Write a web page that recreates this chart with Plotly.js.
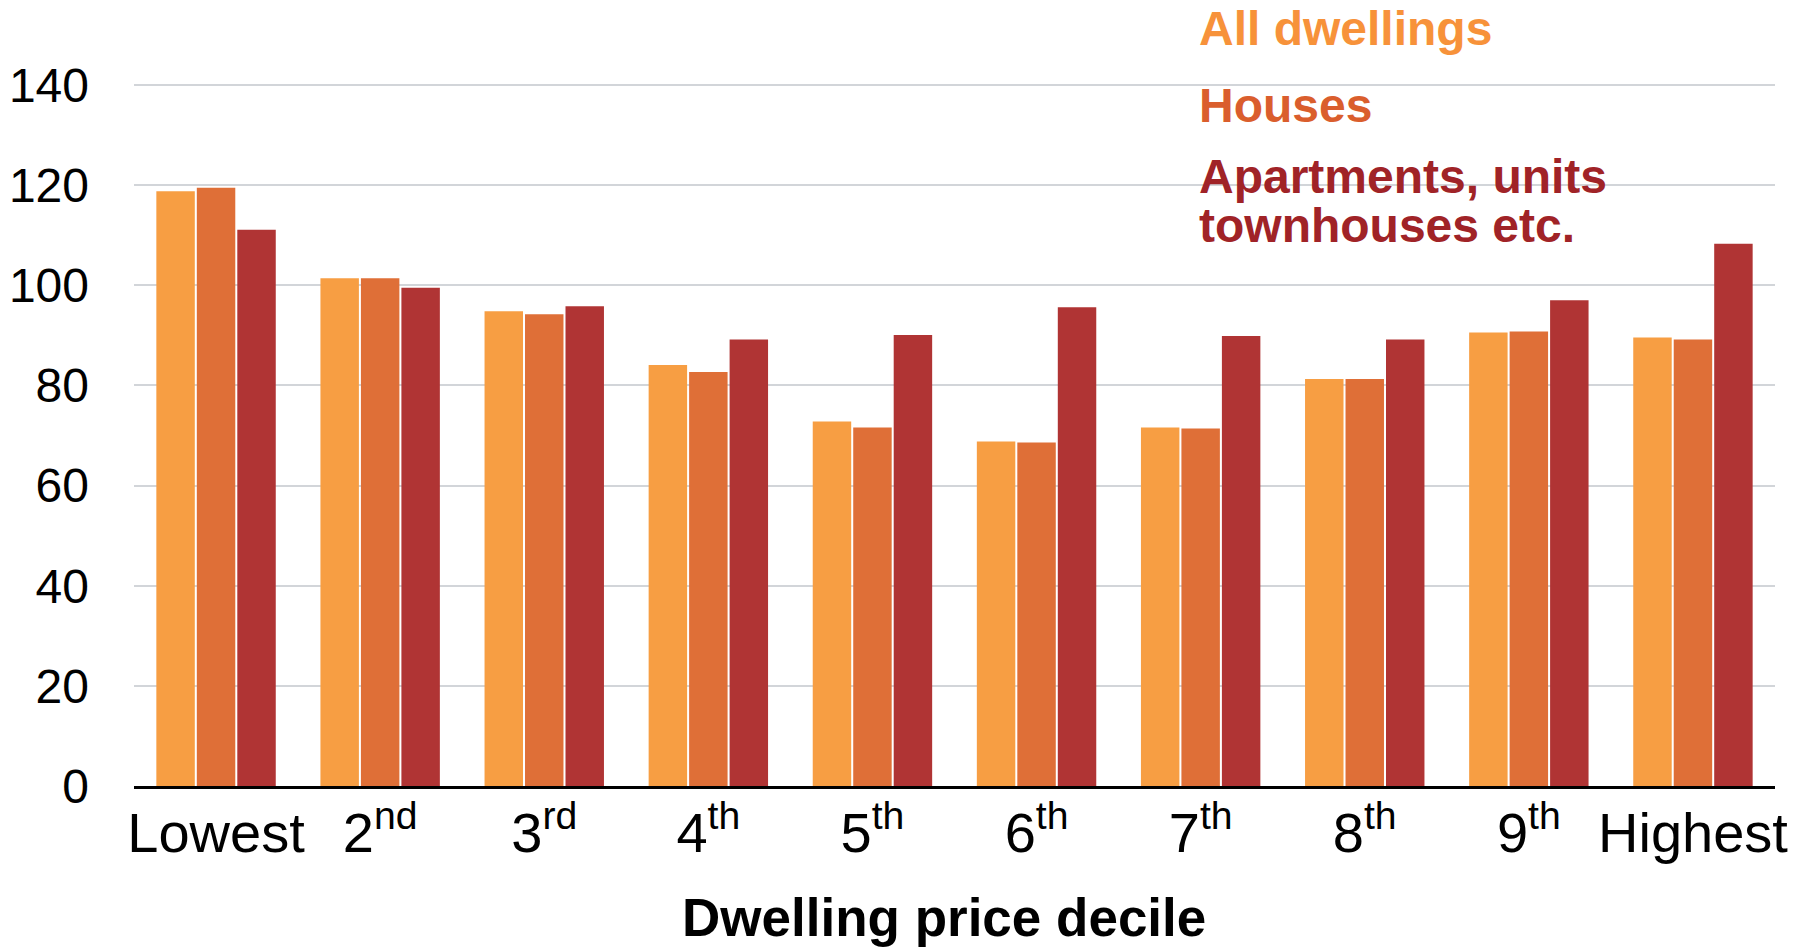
<!DOCTYPE html>
<html>
<head>
<meta charset="utf-8">
<script src="https://cdn.plot.ly/plotly-3.0.1.min.js"></script>
<style>html,body{margin:0;padding:0;background:#fff;}#chart{width:1812px;height:952px;}</style>
</head>
<body>
<div id="chart"></div>
<script>
const categories = ["Lowest", "2<sup>nd</sup>", "3<sup>rd</sup>", "4<sup>th</sup>", "5<sup>th</sup>", "6<sup>th</sup>", "7<sup>th</sup>", "8<sup>th</sup>", "9<sup>th</sup>", "Highest"];
const allDwellings = [118.8, 101.4, 94.8, 84.1, 72.8, 68.8, 71.6, 81.3, 90.6, 89.6];
const houses = [119.5, 101.4, 94.2, 82.7, 71.6, 68.6, 71.4, 81.3, 90.8, 89.2];
const apartments = [111.1, 99.5, 95.8, 89.2, 90.1, 95.6, 89.9, 89.2, 97.0, 108.3];
const seriesNames = ["All dwellings", "Houses", "Apartments, units townhouses etc."];
const legendLines = ["All dwellings", "Houses", "Apartments, units", "townhouses etc."];
const xTitle = "Dwelling price decile";
const yTicks = [0, 20, 40, 60, 80, 100, 120, 140];

const barColors = ["#F79E43", "#DF6F37", "#B03434"];
const textColors = ["#F7923A", "#DA5E2D", "#A02327", "#A02327"];
const FONT = "Liberation Sans, Arial, sans-serif";

const W = 1812, H = 952;
const M = {l: 134, r: 37, t: 35, b: 166};
const PW = W - M.l - M.r, PH = H - M.t - M.b;
const px = x => (x - M.l) / PW;
const py = y => (H - M.b - y) / PH;

const traces = [allDwellings, houses, apartments].map((vals, i) => ({
  type: "bar",
  x: categories,
  y: vals,
  name: seriesNames[i],
  marker: {color: barColors[i], line: {width: 0}},
  hoverinfo: "x+y+name"
}));

// legend text positions (pixel centres) and white masks over gridlines
const legendY = [28, 105, 176, 226];
const annotations = legendLines.map((t, i) => ({
  xref: "paper", yref: "paper", x: px(1197), y: py(legendY[i]),
  xanchor: "left", yanchor: "middle", showarrow: false, align: "left",
  text: "<b>" + t + "</b>",
  font: {family: FONT, size: 48, color: textColors[i]}
}));
annotations.push({
  xref: "paper", yref: "paper", x: px(944), y: py(917),
  xanchor: "center", yanchor: "middle", showarrow: false,
  text: "<b>" + xTitle + "</b>",
  font: {family: FONT, size: 53, color: "#000"}
});

const shapes = [
  {type: "rect", xref: "paper", yref: "paper", x0: px(1179), x1: px(1581), y0: py(80), y1: py(92),
   fillcolor: "#ffffff", line: {width: 0}, layer: "between"},
  {type: "rect", xref: "paper", yref: "paper", x0: px(1179), x1: px(1664), y0: py(180), y1: py(192),
   fillcolor: "#ffffff", line: {width: 0}, layer: "between"}
];

const layout = {
  width: W,
  height: H,
  margin: M,
  paper_bgcolor: "#ffffff",
  plot_bgcolor: "#ffffff",
  showlegend: false,
  barmode: "group",
  bargap: 0.26,
  bargroupgap: 0.05,
  font: {family: FONT, color: "#000"},
  xaxis: {
    type: "category",
    tickfont: {family: FONT, size: 56, color: "#000"},
    showgrid: false,
    showline: true,
    linecolor: "#000",
    linewidth: 3,
    ticks: "",
    ticklabelstandoff: -4,
    fixedrange: true
  },
  yaxis: {
    range: [0, 150],
    tickvals: yTicks,
    ticktext: yTicks.map(String),
    tickfont: {family: FONT, size: 48, color: "#000"},
    showgrid: true,
    gridcolor: "#D2D5D9",
    gridwidth: 2,
    zeroline: false,
    showline: false,
    ticks: "",
    ticklabelstandoff: 44,
    fixedrange: true
  },
  shapes: shapes,
  annotations: annotations
};

Plotly.newPlot("chart", traces, layout, {displayModeBar: false, staticPlot: true});
</script>
</body>
</html>
